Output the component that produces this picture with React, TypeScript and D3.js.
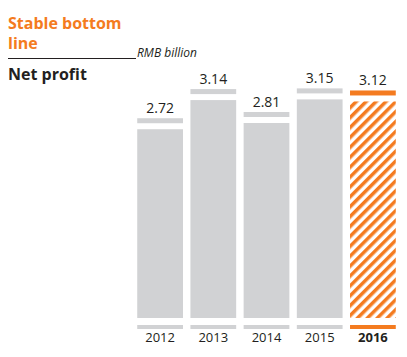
import React from "react";
import * as d3 from "d3";

const years = ["2012", "2013", "2014", "2015", "2016"];
const netProfit = [2.72, 3.14, 2.81, 3.15, 3.12];
const highlightYear = "2016";

const W = 407;
const H = 357;
const ORANGE = "#f47b20";
const GRAY = "#d1d2d4";
const TEXT = "#231f20";

export default function App() {
  const x = d3.scaleBand<string>().domain(years).range([133.5, 399.5]).paddingInner(0.14).paddingOuter(0.07);
  const y = d3.scaleLinear().domain([0, 4]).range([318, 40.4]);
  const font = "'Open Sans', 'Noto Sans', sans-serif";
  return (
    <svg width={W} height={H} style={{ position: "absolute", left: 0, top: 0 }} fontFamily={font}>
      <defs>
        <pattern id="hatch" width="7" height="7" patternUnits="userSpaceOnUse" patternTransform="rotate(45)">
          <rect x="0" y="0" width="7" height="7" fill="#fff" />
          <rect x="0" y="0" width="3.5" height="7" fill={ORANGE} />
        </pattern>
      </defs>
      <rect width={W} height={H} fill="#fff" />
      <text x={8} y={29} fill={ORANGE} fontWeight="bold" fontSize={16}>Stable bottom</text>
      <text x={8} y={49} fill={ORANGE} fontWeight="bold" fontSize={16}>line</text>
      <line x1={8} x2={136} y1={58.5} y2={58.5} stroke={TEXT} strokeWidth={1} />
      <text x={137} y={57} fill={TEXT} fontStyle="italic" fontSize={12}>RMB billion</text>
      <text x={8} y={80} fill={TEXT} fontWeight="bold" fontSize={16}>Net profit</text>
      {years.map((yr, i) => {
        const hl = yr === highlightYear;
        const bx = x(yr)!;
        const bw = x.bandwidth();
        const v = netProfit[i];
        const top = y(v);
        return (
          <g key={yr}>
            <rect x={bx} y={top} width={bw} height={y(0) - top} fill={hl ? "url(#hatch)" : GRAY} />
            <rect x={bx} y={top - 11} width={bw} height={5} fill={hl ? ORANGE : GRAY} />
            <rect x={bx} y={325} width={bw} height={4} fill={hl ? ORANGE : GRAY} />
            <text x={bx + bw / 2} y={top - 16} textAnchor="middle" fill={TEXT} fontSize={14}>{v.toFixed(2)}</text>
            <text x={bx + bw / 2} y={342} textAnchor="middle" fill={TEXT} fontSize={13} fontWeight={hl ? "bold" : "normal"}>{yr}</text>
          </g>
        );
      })}
    </svg>
  );
}
